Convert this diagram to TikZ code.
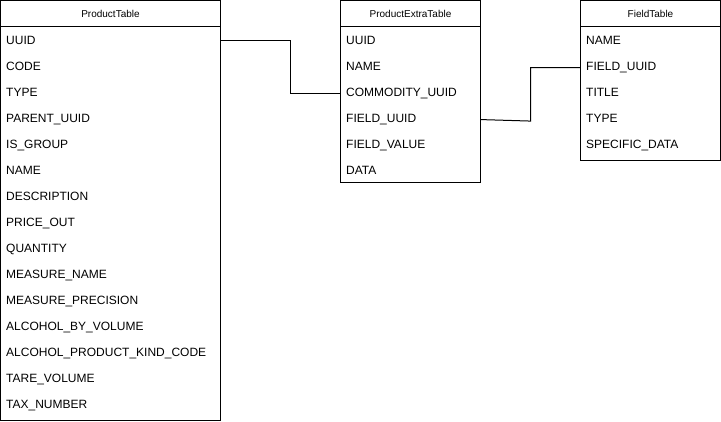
\documentclass[tikz,border=0pt]{standalone}
\usepackage{fontspec}
\setmainfont{Liberation Sans}

\begin{document}
\begin{tikzpicture}
[x=1pt, y=-1pt,
 TableBox/.style={rectangle,
    draw=black, line width=1pt, anchor=north west,
    inner sep=0pt, outer sep=0pt},
 TableHead/.style={TableBox,
    font=\fontsize{10}{12}\selectfont, minimum height=26pt},
 FieldRow/.style={anchor=base west, inner sep=0pt,
    font=\fontsize{12}{14}\selectfont},
 Link/.style={draw=black, line width=1pt}]
\useasboundingbox (0,0) rectangle (721,421);

% ProductTable
\node[TableHead, minimum width=220pt] (ptHead) at (0.5,0.5) {ProductTable};
\node[TableBox, minimum width=220pt, minimum height=394pt] (pt) at (ptHead.south west) {};
\foreach \name [count=\i] in {UUID,CODE,TYPE,PARENT\_UUID,IS\_GROUP,NAME,
    DESCRIPTION,PRICE\_OUT,QUANTITY,MEASURE\_NAME,MEASURE\_PRECISION,
    ALCOHOL\_BY\_VOLUME,ALCOHOL\_PRODUCT\_KIND\_CODE,TARE\_VOLUME,TAX\_NUMBER}
    \node[FieldRow] (pt_\i) at (6, {44.5+26*(\i-1)}) {\name};

% ProductExtraTable
\node[TableHead, minimum width=140pt] (peHead) at (340.5,0.5) {ProductExtraTable};
\node[TableBox, minimum width=140pt, minimum height=156pt] (pe) at (peHead.south west) {};
\foreach \name [count=\i] in {UUID,NAME,COMMODITY\_UUID,FIELD\_UUID,FIELD\_VALUE,DATA}
    \node[FieldRow] (pe_\i) at (346, {44.5+26*(\i-1)}) {\name};

% FieldTable
\node[TableHead, minimum width=140pt] (ftHead) at (580.5,0.5) {FieldTable};
\node[TableBox, minimum width=140pt, minimum height=134pt] (ft) at (ftHead.south west) {};
\foreach \name [count=\i] in {NAME,FIELD\_UUID,TITLE,TYPE,SPECIFIC\_DATA}
    \node[FieldRow] (ft_\i) at (586, {44.5+26*(\i-1)}) {\name};

% links
\draw[Link] (pt.east |- pt_1) -- ++(70,0) |- (pe.west |- pe_3);
\draw[Link] (pe.east |- pe_4) -- ++(50,1.5) |- (ft.west |- ft_2);
\end{tikzpicture}
\end{document}
